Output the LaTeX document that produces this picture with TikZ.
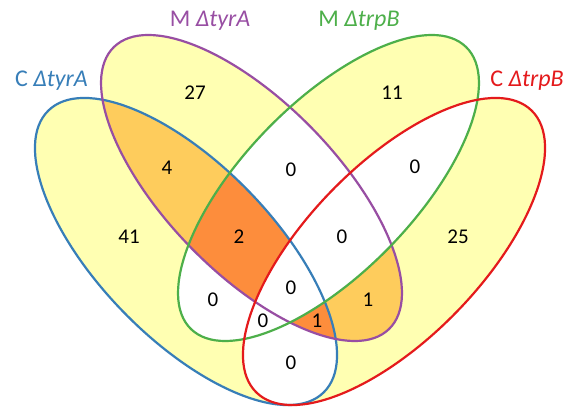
\documentclass[tikz,border=0pt]{standalone}
\usepackage{fontspec}
\setmainfont{Carlito}
\usetikzlibrary{positioning}
\definecolor{cblue}{HTML}{377EB8}
\definecolor{cpurple}{HTML}{984EA3}
\definecolor{cgreen}{HTML}{4DAF4A}
\definecolor{cred}{HTML}{E41A1C}
\definecolor{yl}{HTML}{FFFFB2}
\definecolor{lo}{HTML}{FECC5C}
\definecolor{dko}{HTML}{FD8D3C}

% the four sets, as paths (units are pt, y up)
\newcommand{\elA}{[rotate around={-45.7:(186,155.5)}] (186,155.5) ellipse [x radius=197pt, y radius=87pt]}  % C tyrA
\newcommand{\elB}{[rotate around={-45.7:(251.5,219)}] (251.5,219) ellipse [x radius=197pt, y radius=85pt]} % M tyrA
\newcommand{\elC}{[rotate around={45.7:(328.5,219)}] (328.5,219) ellipse [x radius=197pt, y radius=85pt]}  % M trpB
\newcommand{\elD}{[rotate around={45.7:(394,155.5)}] (394,155.5) ellipse [x radius=197pt, y radius=87pt]}   % C trpB

\begin{document}
\begin{tikzpicture}[x=1pt, y=1pt, line width=2.2pt,
                    num/.style={font=\fontsize{21}{24}\selectfont, inner sep=0pt},
                    lab/.style={font=\fontsize{24}{28}\selectfont, inner sep=0pt, anchor=base}]

    \useasboundingbox (0,0) rectangle (576,407); % same size as the reference

    % region colours: yellow everywhere, white on overlaps, then the orange ones
    \foreach \e in {\elA, \elB, \elC, \elD} \fill [yl] \e;
    \foreach \i/\j in {\elA/\elB, \elA/\elC, \elA/\elD, \elB/\elC, \elB/\elD, \elC/\elD}
        {\begin{scope} \clip \i; \fill [white] \j; \end{scope}}
    \begin{scope} \clip \elA; \fill [lo] \elB; \end{scope}
    \begin{scope} \clip \elB; \fill [lo] \elD; \end{scope}
    \begin{scope} \clip \elB; \fill [white] \elC; \end{scope}
    \begin{scope} \clip \elA; \clip \elB; \fill [dko] \elC; \fill [dko] \elD; \end{scope}
    \begin{scope} \clip \elA; \clip \elB; \clip \elC; \fill [white] \elD; \end{scope}

    % outlines
    \draw [cblue]   \elA;
    \draw [cpurple] \elB;
    \draw [cgreen]  \elC;
    \draw [cred]    \elD;

    % set names
    \node [lab, text=cblue]   (la) at (51.5,320.5) {C \textit{Δ}\textit{tyrA}};
    \node [lab, text=cpurple] (lb) at (210,380.3)  {M \textit{Δ}\textit{tyrA}};
    \node [lab, text=cgreen]  (lc) at (359,380.3)  {M \textit{Δ}\textit{trpB}};
    \node [lab, text=cred]    (ld) at (527,320.5)  {C \textit{Δ}\textit{trpB}};

    % counts
    \node [num] (a)    at (129,170) {41};
    \node [num] (b)    at (195,314) {27};
    \node [num] (c)    at (392,314) {11};
    \node [num] (d)    at (458,170) {25};
    \node [num] (ab)   at (167,239) {4};
    \node [num] (bc)   at (291,237) {0};
    \node [num] (cd)   at (415,240) {0};
    \node [num] (abc)  at (239,170) {2};
    \node [num] (bcd)  at (342,170) {0};
    \node [num] (ac)   at (213,107) {0};
    \node [num] (abcd) at (291,119) {0};
    \node [num] (bd)   at (368,107) {1};
    \node [num] (acd)  at (263,86)  {0};
    \node [num] (abd)  at (317,86)  {1};
    \node [num] (ad)   at (291,44)  {0};

\end{tikzpicture}
\end{document}
